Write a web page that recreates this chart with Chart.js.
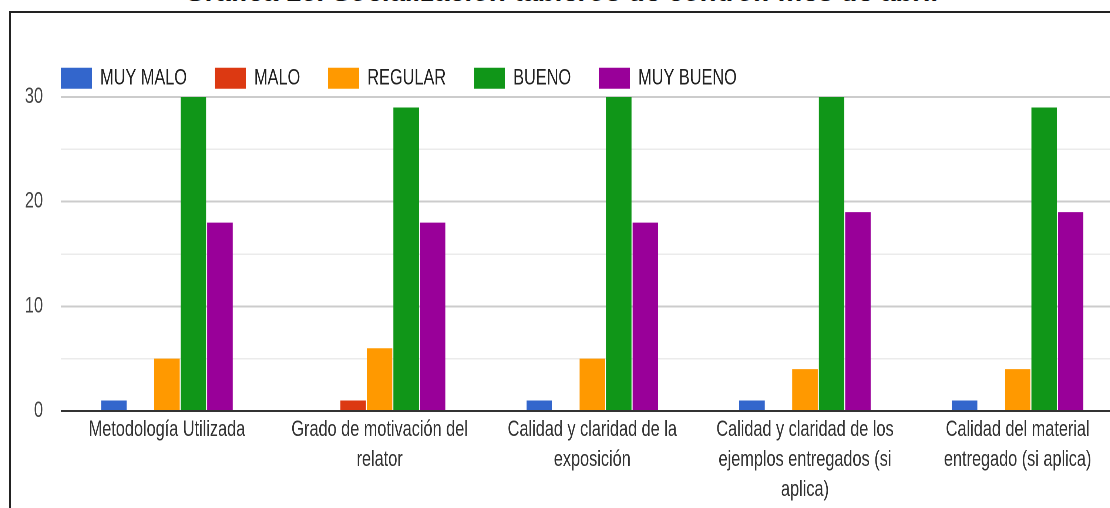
<!DOCTYPE html>
<html><head><meta charset="utf-8">
<script src="https://cdn.jsdelivr.net/npm/chart.js@4.4.1/dist/chart.umd.min.js"></script>
<style>
html,body{margin:0;padding:0;background:#fff;overflow:hidden;width:1110px;height:508px;}
#title{position:absolute;left:0;width:1124px;text-align:center;top:-22.5px;font:italic bold 27.5px 'Liberation Sans',Arial,sans-serif;line-height:27.5px;color:#111;white-space:nowrap;}
#frame{position:absolute;left:9px;top:11px;right:-10px;bottom:-10px;border-left:2px solid #222;border-top:2px solid #222;}
#wrap{position:absolute;left:0;top:0;width:1530px;height:508px;transform:scaleX(0.74);transform-origin:0 0;}
</style></head>
<body>
<div id="frame"></div>
<div id="title">Gráfica 15. Socialización tableros de control: mes de abril</div>
<div id="wrap"><canvas id="c"></canvas></div>
<script>
const categories = [
  ["Metodología Utilizada"],
  ["Grado de motivación del", "relator"],
  ["Calidad y claridad de la", "exposición"],
  ["Calidad y claridad de los", "ejemplos entregados (si", "aplica)"],
  ["Calidad del material", "entregado (si aplica)"]
];
const seriesNames = ["MUY MALO", "MALO", "REGULAR", "BUENO", "MUY BUENO"];
const muyMalo  = [1, 0, 1, 1, 1];
const malo     = [0, 1, 0, 0, 0];
const regular  = [5, 6, 5, 4, 4];
const bueno    = [30, 29, 30, 30, 29];
const muyBueno = [18, 18, 18, 19, 19];
const seriesColors = ["#3366cc", "#dc3912", "#ff9900", "#109618", "#990099"];
const yTickLabels = [0, 10, 20, 30];

const seriesValues = [muyMalo, malo, regular, bueno, muyBueno];

Chart.defaults.font.family = "'Liberation Sans', Arial, sans-serif";

const legendShift = {
  id: 'legendShift',
  afterLayout(chart) {
    if (chart.legend) {
      chart.legend.left += 24.6;
      chart.legend.right += 24.6;
    }
  }
};

new Chart(document.getElementById('c'), {
  type: 'bar',
  data: {
    labels: categories,
    datasets: seriesNames.map((name, i) => ({
      label: name,
      data: seriesValues[i],
      backgroundColor: seriesColors[i],
      borderWidth: 0,
      categoryPercentage: 0.623,
      barPercentage: 0.96
    }))
  },
  plugins: [legendShift],
  options: {
    responsive: true,
    maintainAspectRatio: false,
    animation: false,
    devicePixelRatio: 2,
    layout: { padding: { left: 20, top: 29.5, right: 11.1, bottom: 3 } },
    plugins: {
      title: { display: false },
      tooltip: { enabled: false },
      legend: {
        position: 'top',
        align: 'start',
        maxHeight: 67.5,
        labels: {
          boxWidth: 41.9,
          boxHeight: 21,
          padding: 37.8,
          color: '#222',
          font: { size: 22 }
        }
      }
    },
    scales: {
      x: {
        grid: { display: false, drawTicks: false },
        border: { display: false },
        ticks: {
          autoSkip: false,
          maxRotation: 0,
          minRotation: 0,
          padding: 4,
          color: '#333',
          font: { size: 22, lineHeight: 30 / 22 }
        },
        afterFit: (scale) => { scale.height = 94; }
      },
      y: {
        min: 0,
        max: 30,
        border: { display: false },
        grid: {
          drawTicks: false,
          color: (ctx) => {
            const v = ctx.tick ? ctx.tick.value : null;
            if (v === 0) return '#333333';
            return yTickLabels.includes(v) ? '#cccccc' : '#ebebeb';
          },
          lineWidth: (ctx) => {
            const v = ctx.tick ? ctx.tick.value : null;
            return yTickLabels.includes(v) ? 2 : 1.5;
          }
        },
        ticks: {
          stepSize: 5,
          padding: 23.8,
          color: '#444',
          font: { size: 22 },
          callback: (v) => yTickLabels.includes(v) ? String(v) : ''
        },
        afterFit: (scale) => { scale.width = 61.9; }
      }
    }
  }
});
</script>
</body></html>
